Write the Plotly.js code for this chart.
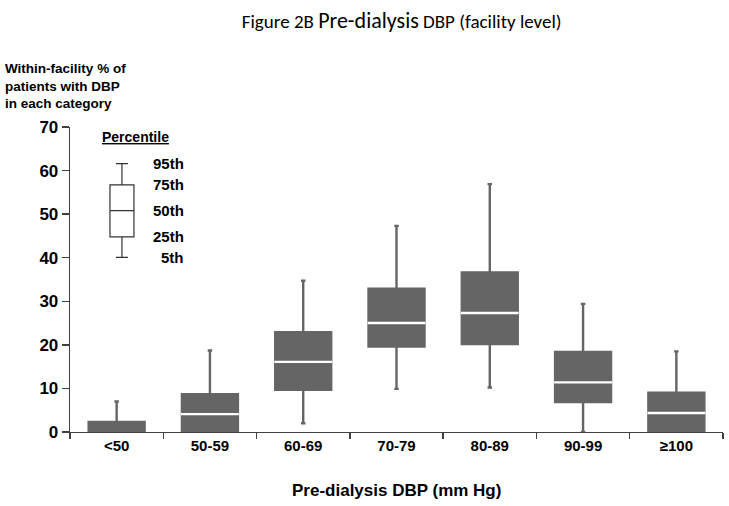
<!DOCTYPE html>
<html>
<head>
<meta charset="utf-8">
<script src="https://cdn.plot.ly/plotly-3.0.1.min.js"></script>
<style>html,body{margin:0;padding:0;background:#fff;}#chart{width:729px;height:506px;}</style>
</head>
<body>
<div id="chart"></div>
<script>
// ---- data ----
var categories = ['<50', '50-59', '60-69', '70-79', '80-89', '90-99', '\u2265100'];
var p5  = [0,   0,    2.0,  9.9,  10.2, 0,    0];
var p25 = [0,   0,    9.7,  19.6, 20.2, 6.9,  0];
var p50 = [0,   4.1,  16.1, 25.0, 27.3, 11.4, 4.35];
var p75 = [2.3, 8.7,  22.9, 32.9, 36.6, 18.4, 9.0];
var p95 = [7.0, 18.7, 34.7, 47.3, 56.9, 29.4, 18.5];

// illustrative key box (legend)
var keyValues = [40.1, 44.8, 50.8, 56.7, 61.6];
var keyLabels = ['5th', '25th', '50th', '75th', '95th'];
var yTicks = [0, 10, 20, 30, 40, 50, 60, 70];

var gray = '#656565';
var boldFont = 'Liberation Sans, Arial, sans-serif';

// medians that lie above the axis (a median of 0 is hidden by the axis in the original)
var medCats = [], medVals = [];
categories.forEach(function (c, i) { if (p50[i] > 0) { medCats.push(c); medVals.push(p50[i]); } });

var traces = [
  { // whiskers + box (all gray)
    type: 'box', x: categories, q1: p25, median: p50, q3: p75,
    lowerfence: p5, upperfence: p95,
    fillcolor: gray, line: {color: gray, width: 2.4},
    whiskerwidth: 0.08, width: 0.6, boxpoints: false,
    showlegend: false, hoverinfo: 'skip'
  },
  { // white median line only (degenerate box at the median)
    type: 'box', x: medCats, q1: medVals, median: medVals, q3: medVals,
    lowerfence: medVals, upperfence: medVals,
    fillcolor: 'rgba(0,0,0,0)', line: {color: '#ffffff', width: 2.4},
    whiskerwidth: 0, width: 0.62, boxpoints: false,
    showlegend: false, hoverinfo: 'skip'
  },
  { // key box
    type: 'box', x: [0], xaxis: 'x2',
    q1: [keyValues[1]], median: [keyValues[2]], q3: [keyValues[3]],
    lowerfence: [keyValues[0]], upperfence: [keyValues[4]],
    fillcolor: '#ffffff', line: {color: '#333333', width: 1.2},
    whiskerwidth: 0.5, width: 0.257, boxpoints: false,
    showlegend: false, hoverinfo: 'skip'
  }
];

var annotations = [
  { // y-axis title
    xref: 'paper', yref: 'paper', x: -0.103, y: 1.222, xanchor: 'left', yanchor: 'top',
    align: 'left', showarrow: false,
    text: '<b>Within-facility % of<br>patients with DBP<br>in each category</b>',
    font: {family: boldFont, size: 13.5, color: '#000'}
  },
  { // x-axis title
    xref: 'paper', yref: 'paper', x: 0.5, y: -0.192, xanchor: 'center', yanchor: 'middle',
    showarrow: false, text: '<b>Pre-dialysis DBP (mm Hg)</b>',
    font: {family: boldFont, size: 17, color: '#000'}
  },
  { // key heading
    xref: 'paper', yref: 'paper', x: 0.1, y: 0.966, xanchor: 'center', yanchor: 'middle',
    showarrow: false, text: '<b><span style="text-decoration:underline">Percentile</span></b>',
    font: {family: boldFont, size: 14, color: '#000'}
  }
];
keyLabels.forEach(function (lab, i) {
  annotations.push({
    xref: 'paper', yref: 'y', x: 0.177, y: keyValues[i], xanchor: 'right', yanchor: 'middle',
    showarrow: false, text: '<b>' + lab + '</b>',
    font: {family: boldFont, size: 15, color: '#000'}
  });
});

var layout = {
  width: 729, height: 506,
  margin: {l: 70, r: 6, t: 127, b: 74},
  paper_bgcolor: '#fff', plot_bgcolor: '#fff',
  boxmode: 'overlay',
  title: {
    text: 'Figure 2B <span style="font-size:22px">Pre-dialysis</span> DBP (facility level)',
    x: 0.551, xref: 'container', xanchor: 'center', y: 0.958, yref: 'container', yanchor: 'middle',
    font: {family: 'Carlito, Open Sans, sans-serif', size: 19, color: '#000'}
  },
  xaxis: {
    type: 'category', range: [-0.5, 6.5], fixedrange: true,
    showline: true, linecolor: '#404040', linewidth: 1.3,
    ticks: 'outside', tickson: 'boundaries', ticklen: 6, tickcolor: '#404040', tickwidth: 1.3,
    showgrid: false, zeroline: false,
    tickfont: {family: boldFont, size: 15, color: '#000', weight: 'bold'}
  },
  xaxis2: {
    overlaying: 'x', range: [-0.557, 6.443], visible: false, fixedrange: true
  },
  yaxis: {
    range: [0, 70], tickvals: yTicks, fixedrange: true,
    showline: true, linecolor: '#404040', linewidth: 1.3,
    ticks: 'outside', ticklen: 7, tickcolor: '#404040', tickwidth: 1.3,
    showgrid: false, zeroline: false,
    tickfont: {family: boldFont, size: 17, color: '#000', weight: 'bold'}
  },
  annotations: annotations
};

Plotly.newPlot('chart', traces, layout, {staticPlot: true, displayModeBar: false});
</script>
</body>
</html>
